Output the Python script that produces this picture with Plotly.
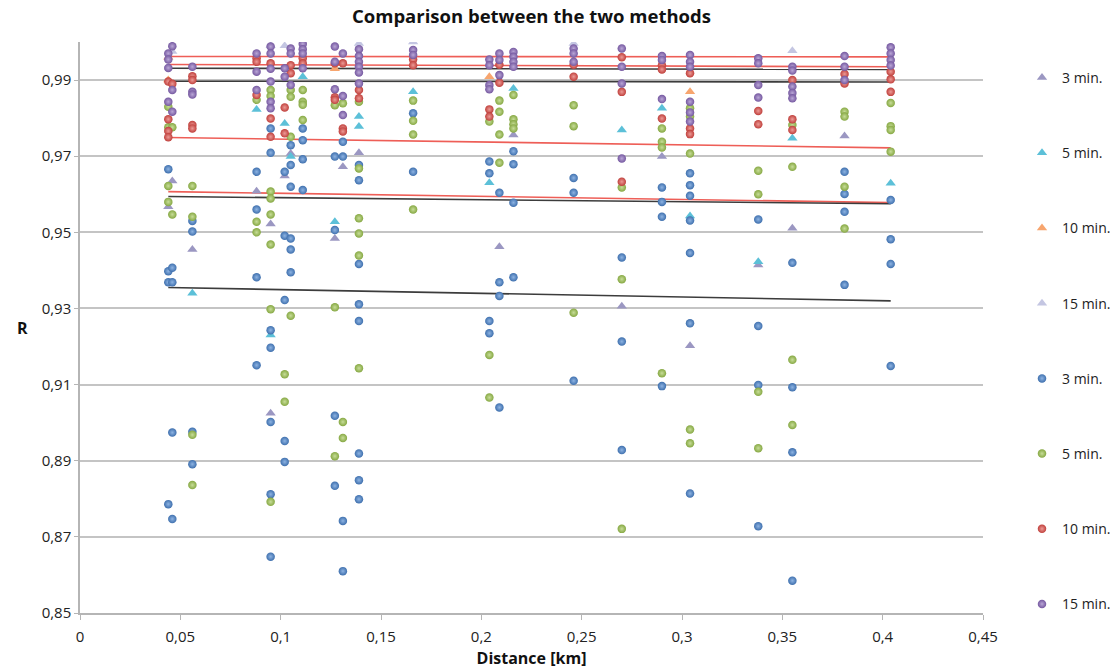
import plotly.graph_objects as go

# ---------------- data ----------------
# Circles: 3 min (blue)
c3_x = [0.044, 0.044, 0.044, 0.044, 0.046, 0.046, 0.046, 0.046,
        0.056, 0.056, 0.056, 0.056, 0.088, 0.088, 0.088, 0.088,
        0.095, 0.095, 0.095, 0.095, 0.095, 0.095, 0.095,
        0.102, 0.102, 0.102, 0.102, 0.102,
        0.105, 0.105, 0.105, 0.105, 0.105, 0.105,
        0.111, 0.111, 0.111, 0.111, 0.127, 0.127, 0.127, 0.127,
        0.131, 0.131, 0.131, 0.131,
        0.139, 0.139, 0.139, 0.139, 0.139, 0.139, 0.139, 0.139,
        0.166, 0.166, 0.204, 0.204, 0.204, 0.204,
        0.209, 0.209, 0.209, 0.209, 0.216, 0.216, 0.216, 0.216,
        0.246, 0.246, 0.246, 0.270, 0.270, 0.270,
        0.290, 0.290, 0.290, 0.290,
        0.304, 0.304, 0.304, 0.304, 0.304, 0.304, 0.304,
        0.338, 0.338, 0.338, 0.338, 0.355, 0.355, 0.355, 0.355,
        0.381, 0.381, 0.381, 0.381, 0.404, 0.404, 0.404, 0.404]
c3_y = [0.9666, 0.9398, 0.9369, 0.8786, 0.9407, 0.9369, 0.8974, 0.8747,
        0.9530, 0.9502, 0.8976, 0.8891, 0.9659, 0.9560, 0.9382, 0.9151,
        0.9773, 0.9709, 0.9243, 0.9197, 0.9002, 0.8812, 0.8648,
        0.9659, 0.9491, 0.9322, 0.8952, 0.8897,
        0.9729, 0.9677, 0.9620, 0.9484, 0.9455, 0.9395,
        0.9773, 0.9742, 0.9692, 0.9611, 0.9699, 0.9506, 0.9018, 0.8834,
        0.9738, 0.9699, 0.8742, 0.8610,
        0.9677, 0.9637, 0.9417, 0.9311, 0.9267, 0.8919, 0.8849, 0.8799,
        0.9813, 0.9659, 0.9686, 0.9655, 0.9267, 0.9235,
        0.9604, 0.9369, 0.9333, 0.9040, 0.9713, 0.9679, 0.9578, 0.9382,
        0.9643, 0.9604, 0.9110, 0.9434, 0.9213, 0.8928,
        0.9618, 0.9580, 0.9541, 0.9096,
        0.9655, 0.9624, 0.9596, 0.9531, 0.9446, 0.9261, 0.8814,
        0.9534, 0.9254, 0.9099, 0.8728, 0.9420, 0.9093, 0.8922, 0.8585,
        0.9659, 0.9601, 0.9554, 0.9362, 0.9585, 0.9482, 0.9417, 0.9149]

# Circles: 5 min (green)
c5_x = [0.044, 0.044, 0.044, 0.044, 0.046, 0.046,
        0.056, 0.056, 0.056, 0.056, 0.088, 0.088, 0.088,
        0.095, 0.095, 0.095, 0.095, 0.095, 0.095, 0.095, 0.095,
        0.102, 0.102, 0.105, 0.105, 0.105, 0.105,
        0.111, 0.111, 0.111, 0.111, 0.127, 0.127, 0.127,
        0.131, 0.131, 0.131,
        0.139, 0.139, 0.139, 0.139, 0.139, 0.139,
        0.166, 0.166, 0.166, 0.166, 0.204, 0.204, 0.204,
        0.209, 0.209, 0.209, 0.209, 0.216, 0.216, 0.216, 0.216,
        0.246, 0.246, 0.246, 0.270, 0.270, 0.270,
        0.290, 0.290, 0.290, 0.290, 0.304, 0.304, 0.304, 0.304, 0.304,
        0.338, 0.338, 0.338, 0.338, 0.355, 0.355, 0.355, 0.355,
        0.381, 0.381, 0.381, 0.381, 0.404, 0.404, 0.404, 0.404]
c5_y = [0.9830, 0.9622, 0.9580, 0.9776, 0.9776, 0.9547,
        0.9622, 0.9541, 0.8968, 0.8836, 0.9848, 0.9528, 0.9500,
        0.9874, 0.9858, 0.9607, 0.9589, 0.9547, 0.9468, 0.9298, 0.8792,
        0.9127, 0.9055, 0.9874, 0.9856, 0.9751, 0.9281,
        0.9874, 0.9843, 0.9835, 0.9795, 0.9834, 0.9303, 0.8912,
        0.9839, 0.9002, 0.8960,
        0.9843, 0.9668, 0.9537, 0.9497, 0.9439, 0.9143,
        0.9846, 0.9793, 0.9757, 0.9560, 0.9791, 0.9178, 0.9066,
        0.9846, 0.9817, 0.9757, 0.9683, 0.9861, 0.9797, 0.9784, 0.9773,
        0.9834, 0.9779, 0.9289, 0.9618, 0.9377, 0.8721,
        0.9773, 0.9738, 0.9723, 0.9130, 0.9826, 0.9804, 0.9707, 0.8982, 0.8946,
        0.9662, 0.9600, 0.9081, 0.8933, 0.9782, 0.9672, 0.9165, 0.8994,
        0.9817, 0.9804, 0.9620, 0.9510, 0.9840, 0.9779, 0.9769, 0.9712]

# Circles: 10 min (red)
c10_x = [0.044, 0.044, 0.044, 0.044, 0.046,
         0.056, 0.056, 0.056, 0.056, 0.088, 0.088, 0.088,
         0.095, 0.095, 0.095, 0.102, 0.102, 0.105, 0.105,
         0.111, 0.111, 0.127, 0.127, 0.127, 0.131, 0.131, 0.131,
         0.139, 0.139, 0.166, 0.166, 0.204, 0.204, 0.209, 0.209,
         0.246, 0.246, 0.270, 0.270, 0.270, 0.290, 0.290, 0.290,
         0.304, 0.304, 0.304, 0.338, 0.338, 0.355, 0.355, 0.355,
         0.381, 0.381, 0.404, 0.404, 0.404]
c10_y = [0.9896, 0.9797, 0.9766, 0.9750, 0.9890,
         0.9910, 0.9900, 0.9782, 0.9773, 0.9957, 0.9948, 0.9861,
         0.9944, 0.9799, 0.9751, 0.9828, 0.9760, 0.9939, 0.9918,
         0.9957, 0.9944, 0.9944, 0.9855, 0.9848, 0.9944, 0.9773, 0.9765,
         0.9874, 0.9852, 0.9954, 0.9939, 0.9823, 0.9804, 0.9940, 0.9893,
         0.9940, 0.9909, 0.9960, 0.9869, 0.9633, 0.9939, 0.9928, 0.9799,
         0.9918, 0.9773, 0.9758, 0.9819, 0.9784, 0.9900, 0.9797, 0.9769,
         0.9916, 0.9891, 0.9922, 0.9902, 0.9869]

# Circles: 15 min (purple)
c15_x = [0.044, 0.044, 0.044, 0.044, 0.046, 0.046, 0.046,
         0.056, 0.056, 0.056, 0.088, 0.088, 0.088,
         0.095, 0.095, 0.095, 0.095, 0.095, 0.095,
         0.102, 0.102, 0.105, 0.105, 0.105,
         0.111, 0.111, 0.111, 0.111, 0.127, 0.127, 0.127,
         0.131, 0.131, 0.131,
         0.139, 0.139, 0.139, 0.139, 0.139, 0.139,
         0.166, 0.166, 0.204, 0.204, 0.204, 0.204,
         0.209, 0.209, 0.209, 0.216, 0.216, 0.216, 0.216,
         0.246, 0.246, 0.246, 0.270, 0.270, 0.270, 0.270,
         0.290, 0.290, 0.290, 0.304, 0.304, 0.304, 0.304, 0.304, 0.304,
         0.338, 0.338, 0.338, 0.338, 0.355, 0.355, 0.355, 0.355, 0.355,
         0.381, 0.381, 0.381, 0.404, 0.404, 0.404, 0.404]
c15_y = [0.9970, 0.9954, 0.9932, 0.9843, 0.9989, 0.9874, 0.9817,
         0.9935, 0.9869, 0.9862, 0.9970, 0.9922, 0.9874,
         0.9988, 0.9970, 0.9930, 0.9896, 0.9843, 0.9826,
         0.9931, 0.9909, 0.9983, 0.9970, 0.9887,
         0.9995, 0.9981, 0.9970, 0.9931, 0.9988, 0.9948, 0.9876,
         0.9970, 0.9858, 0.9808,
         0.9981, 0.9963, 0.9948, 0.9935, 0.9920, 0.9891,
         0.9979, 0.9966, 0.9954, 0.9939, 0.9887, 0.9876,
         0.9970, 0.9953, 0.9913, 0.9974, 0.9961, 0.9948, 0.9935,
         0.9983, 0.9970, 0.9948, 0.9983, 0.9935, 0.9891, 0.9694,
         0.9963, 0.9953, 0.9850, 0.9966, 0.9948, 0.9935, 0.9843, 0.9815, 0.9791,
         0.9957, 0.9944, 0.9887, 0.9854, 0.9935, 0.9925, 0.9883, 0.9866, 0.9852,
         0.9963, 0.9935, 0.9900, 0.9986, 0.9970, 0.9953, 0.9938]

# Triangles: 3 min
t3_x = [0.044, 0.046, 0.056, 0.088, 0.095, 0.095, 0.102, 0.105, 0.127,
        0.131, 0.139, 0.209, 0.216, 0.270, 0.290, 0.304, 0.338, 0.355, 0.381]
t3_y = [0.9567, 0.9635, 0.9455, 0.9608, 0.9522, 0.9025, 0.9648, 0.9707, 0.9484,
        0.9672, 0.9709, 0.9462, 0.9756, 0.9306, 0.9699, 0.9202, 0.9414, 0.9511, 0.9753]

# Triangles: 5 min
t5_x = [0.056, 0.088, 0.095, 0.102, 0.105, 0.111, 0.127, 0.139, 0.139,
        0.166, 0.204, 0.216, 0.270, 0.290, 0.304, 0.338, 0.355, 0.404]
t5_y = [0.9340, 0.9823, 0.9230, 0.9786, 0.9699, 0.9909, 0.9528, 0.9804, 0.9778,
        0.9869, 0.9630, 0.9878, 0.9769, 0.9826, 0.9543, 0.9423, 0.9747, 0.9629]

# Triangles: 10 min
t10_x = [0.044, 0.044, 0.127, 0.204, 0.304]
t10_y = [0.9960, 0.9900, 0.9930, 0.9909, 0.9869]

# Triangles: 15 min
t15_x = [0.046, 0.095, 0.102, 0.139, 0.166, 0.246, 0.355]
t15_y = [0.9975, 0.9990, 0.9990, 0.9996, 1.0000, 0.9996, 0.9977]

# Reference curves (start / end of each)
curve_x = [0.044, 0.404]
red1_y = [0.9962, 0.9961]
red2_y = [0.9941, 0.9935]
red3_y = [0.9749, 0.9722]
red4_y = [0.9607, 0.9578]
blk1_y = [0.9931, 0.9928]
blk2_y = [0.9897, 0.9895]
blk3_y = [0.9594, 0.9575]
blk4_y = [0.9355, 0.9320]

y_ticks = [0.85, 0.87, 0.89, 0.91, 0.93, 0.95, 0.97, 0.99]
x_ticks = [0, 0.05, 0.1, 0.15, 0.2, 0.25, 0.3, 0.35, 0.4, 0.45]

# ---------------- figure ----------------
fig = go.Figure()

for yy in [red1_y, red2_y, red3_y, red4_y]:
    fig.add_trace(go.Scatter(x=curve_x, y=yy, mode="lines", showlegend=False,
                             hoverinfo="skip",
                             line=dict(color="#EE5E57", width=1.6)))
for yy in [blk1_y, blk2_y, blk3_y, blk4_y]:
    fig.add_trace(go.Scatter(x=curve_x, y=yy, mode="lines", showlegend=False,
                             hoverinfo="skip",
                             line=dict(color="#3C3C3C", width=1.6)))

tri = [("3 min.", t3_x, t3_y, "#9B97C2"),
       ("5 min.", t5_x, t5_y, "#5CC0D8"),
       ("10 min.", t10_x, t10_y, "#F7A56E"),
       ("15 min.", t15_x, t15_y, "#C4C6E2")]
for i, (name, xs, ys, col) in enumerate(tri):
    fig.add_trace(go.Scatter(x=xs, y=ys, mode="markers", name=name,
                             legendgroup=f"t{i}",
                             marker=dict(symbol="triangle-up", size=9, color=col,
                                         line=dict(width=0))))

circ = [("3 min.", c3_x, c3_y, "#3F70AE", "#8DB3E2"),
        ("5 min.", c5_x, c5_y, "#86A843", "#C7DD98"),
        ("10 min.", c10_x, c10_y, "#C0403C", "#EC9A96"),
        ("15 min.", c15_x, c15_y, "#7558A0", "#B9A6D6")]
for i, (name, xs, ys, col, hi) in enumerate(circ):
    fig.add_trace(go.Scatter(x=xs, y=ys, mode="markers", name=name,
                             legendgroup=f"c{i}",
                             marker=dict(symbol="circle", size=8.5, color=col,
                                         gradient=dict(type="radial", color=hi),
                                         line=dict(width=0))))

axis_font = dict(family="Open Sans", size=15, color="#222222")

fig.update_layout(
    width=1115, height=672,
    margin=dict(l=80, r=132, t=42, b=59, autoexpand=False),
    paper_bgcolor="white", plot_bgcolor="white",
    separators=",.",
    title=dict(text="<b>Comparison between the two methods</b>",
               font=dict(family="Open Sans", size=18.5, color="#111111"),
               x=0.5, xref="paper", xanchor="center",
               y=1 - 17 / 672, yref="container", yanchor="middle"),
    xaxis=dict(range=[0, 0.45], tickvals=x_ticks, tickformat=".2~f",
               showgrid=False, zeroline=False,
               showline=True, linecolor="#B5B5B5", linewidth=1.5,
               ticks="outside", ticklen=5, tickcolor="#B5B5B5",
               tickfont=axis_font, ticklabelstandoff=4,
               title=dict(text="<b>Distance [km]</b>", standoff=8,
                          font=dict(family="Open Sans", size=16, color="#111111"))),
    yaxis=dict(range=[0.85, 1.0], tickvals=y_ticks, tickformat=".2f",
               showgrid=True, gridcolor="#C4C4C4", gridwidth=1.5,
               zeroline=False,
               showline=True, linecolor="#B5B5B5", linewidth=1.5,
               ticks="outside", ticklen=4, tickcolor="#B5B5B5",
               tickfont=axis_font),
    legend=dict(x=(1022 - 80) / 903, xanchor="left", y=0.965, yanchor="top",
                font=dict(family="Open Sans", size=14, color="#222222"),
                tracegroupgap=54, itemwidth=30,
                bgcolor="rgba(0,0,0,0)"),
    showlegend=True,
    annotations=[dict(text="<b>R</b>", x=(15 - 80) / 903, xref="paper",
                      y=0.5, yref="paper", showarrow=False,
                      font=dict(family="Open Sans", size=16, color="#111111"))],
)

fig.write_html("out.html")
